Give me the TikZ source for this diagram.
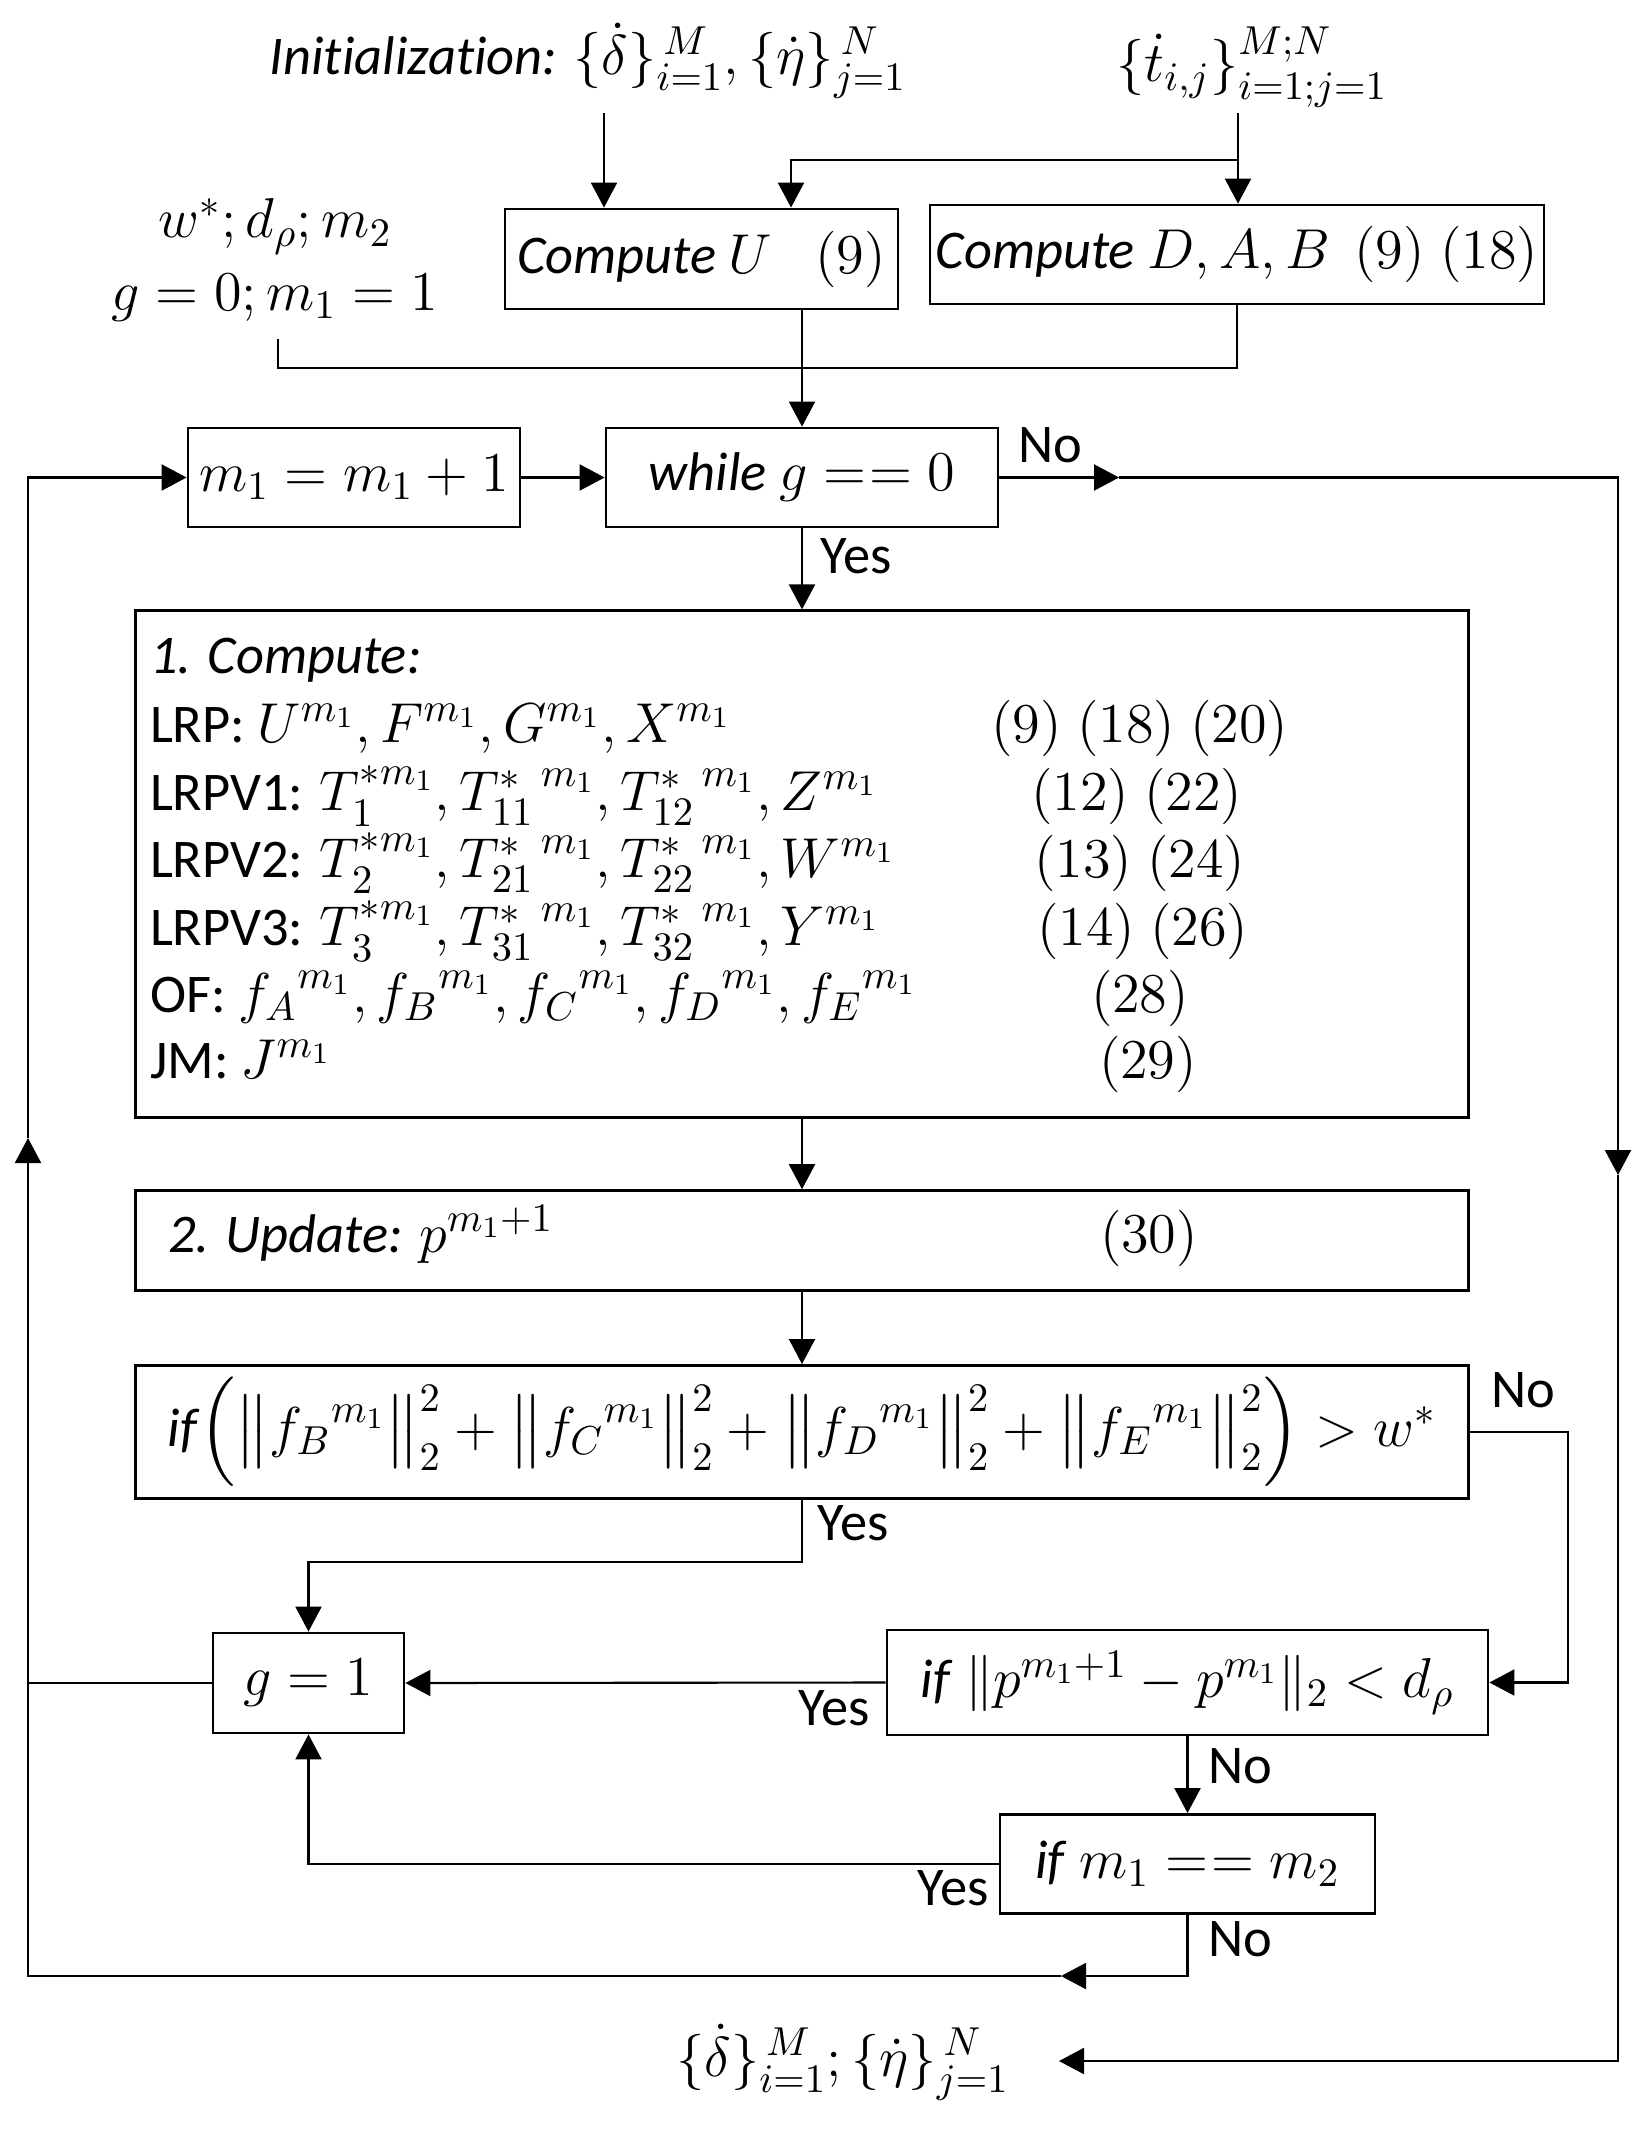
\RequirePackage{fix-cm}
\documentclass[tikz,border=0pt]{standalone}
\usepackage{amsmath}
\usepackage{fontspec}
\setmainfont{Carlito}[Ligatures=NoCommon]
\DeclareMathSizes{15.5}{16}{11.5}{8.5}
\usetikzlibrary{arrows.meta,positioning}

\begin{document}
\begin{tikzpicture}[font=\fontsize{15.5}{18.6}\selectfont,line width=0.6pt,
  box/.style={draw,line width=0.8pt,inner sep=0pt,align=center},
  flow/.style={-{Triangle[length=2.5mm,width=2.6mm]}},
  row/.style={anchor=base west,inner sep=0pt},
  lbl/.style={inner sep=1pt}]
\useasboundingbox (0,0) rectangle (16.41,-21.42);
% inputs
\node[anchor=base] (init) at (5.88,-0.75) {\textit{Initialization:} $\{\dot\delta\}_{i=1}^{\,M}, \{\dot\eta\}_{j=1}^{\,N}$};
\node[anchor=base] (tdot) at (12.52,-0.82) {$\{\dot t_{i,j}\}_{i=1;j=1}^{M;N}$};
\node[align=center] (par) at (2.75,-2.60) {$w^*; d_\rho; m_2$\\[2pt]$g=0; m_1=1$};
\node[box,minimum width=3.93cm,minimum height=1cm] (U) at (7.015,-2.59) {\textit{Compute} $U$\hspace{.8em}$(9)$};
\node[box,minimum width=6.14cm,minimum height=0.99cm] (D) at (12.37,-2.545) {\textit{Compute} $D,A,B$\hspace{.45em}$(9)\;(18)$};
% loop head
\node[box,minimum width=3.32cm,minimum height=0.99cm] (m1) at (3.54,-4.775) {$m_1=m_1+1$};
\node[box,minimum width=3.92cm,minimum height=0.99cm] (while) at (8.02,-4.775) {\textit{while} $g\mathrel{=\mkern1mu=}0$};
\node[box,minimum width=13.33cm,minimum height=5.07cm,below=8.1mm of while] (comp) {};
\node[box,minimum width=13.33cm,minimum height=1cm,below=7mm of comp] (upd) {};
\node[box,minimum width=13.33cm,minimum height=1.33cm,below=7.2mm of upd] (cond) {\textit{if}$\left(\big\|{f_B}^{m_1}\big\|_2^2+\big\|{f_C}^{m_1}\big\|_2^2+\big\|{f_D}^{m_1}\big\|_2^2+\big\|{f_E}^{m_1}\big\|_2^2\right)>w^*$};
% box contents
\node[row] (c0) at (1.49,-6.73) {\textit{1. Compute:}};
\node[row] (c1) at (1.49,-7.42) {LRP: $U^{m_1},F^{m_1},G^{m_1},X^{m_1}$};
\node[row] (c2) at (1.49,-8.10) {LRPV1: $T_1^{*m_1},{T_{11}^{*}}^{\,m_1},{T_{12}^{*}}^{\,m_1},Z^{m_1}$};
\node[row] (c3) at (1.49,-8.77) {LRPV2: $T_2^{*m_1},{T_{21}^{*}}^{\,m_1},{T_{22}^{*}}^{\,m_1},W^{m_1}$};
\node[row] (c4) at (1.49,-9.45) {LRPV3: $T_3^{*m_1},{T_{31}^{*}}^{\,m_1},{T_{32}^{*}}^{\,m_1},Y^{m_1}$};
\node[row] (c5) at (1.49,-10.12) {OF: ${f_A}^{m_1},{f_B}^{m_1},{f_C}^{m_1},{f_D}^{m_1},{f_E}^{m_1}$};
\node[row] (c6) at (1.49,-10.78) {JM: $J^{m_1}$};
\node[anchor=base] (n1) at (11.40,-7.42) {$(9)\;(18)\;(20)$};
\node[anchor=base] (n2) at (11.37,-8.10) {$(12)\;(22)$};
\node[anchor=base] (n3) at (11.40,-8.77) {$(13)\;(24)$};
\node[anchor=base] (n4) at (11.43,-9.45) {$(14)\;(26)$};
\node[anchor=base] (n5) at (11.40,-10.12) {$(28)$};
\node[anchor=base] (n6) at (11.48,-10.78) {$(29)$};
\node[row] (u0) at (1.67,-12.52) {\textit{2. Update:} $p^{m_1+1}$};
\node[anchor=base] (u1) at (11.49,-12.52) {$(30)$};
% stop tests
\node[box,minimum width=1.91cm,minimum height=1cm] (g1) at (3.085,-16.83) {$g=1$};
\node[box,minimum width=6.01cm,minimum height=1.05cm] (dp) at (11.875,-16.825) {\textit{if} $\|p^{m_1+1}-p^{m_1}\|_2<d_\rho$};
\node[box,minimum width=3.75cm,minimum height=0.99cm] (mm) at (11.875,-18.64) {\textit{if} $m_1\mathrel{=\mkern1mu=}m_2$};
\node (out) at (8.43,-20.62) {$\{\dot\delta\}_{i=1}^{\,M}; \{\dot\eta\}_{j=1}^{\,N}$};
% corner points
\coordinate (a1) at (6.04,-1.13);
\coordinate (a2) at (12.38,-1.13);
\coordinate (br) at (12.38,-1.60);
\coordinate (bU) at (7.91,-1.60);
\coordinate (p1) at (2.78,-3.39);
\coordinate (mg) at (8.02,-3.68);
\coordinate (wNo) at (11.19,-4.775);
\coordinate (rM) at (16.18,-11.75);
\coordinate (oT) at (10.59,-20.61);
\coordinate (lB) at (0.28,-19.76);
\coordinate (lM) at (0.28,-11.38);
\coordinate (bT) at (10.61,-19.76);
\coordinate (iN) at (15.68,-14.22);
\coordinate (iY) at (8.03,-15.62);
% connectors
\draw[flow] (a1) -- (a1 |- U.north);
\draw[flow] (a2) -- (a2 |- D.north);
\draw[flow] (br) -- (bU) -- (bU |- U.north);
\draw (p1) |- (mg) -| (D.south);
\draw[flow] (U.south -| while.north) -- (while.north);
\draw[flow] (m1) -- (while);
\draw[flow] (while) -- (comp);
\draw[flow] (comp) -- (upd);
\draw[flow] (upd) -- (cond);
\draw[flow] (while.east) -- (wNo);
\draw[flow] (wNo) -| (rM);
\draw[flow] (rM) |- (oT);
\draw[flow] (cond.east) -| (iN |- dp.east) -- (dp.east);
\draw[flow] (cond.south) |- (g1.north |- iY) -- (g1.north);
\draw[flow] (dp.west) -- (g1.east);
\draw[flow] (dp.south) -- (mm.north);
\draw[flow] (mm.west) -| (g1.south);
\draw[flow] (mm.south) |- (bT);
\draw[flow] (bT) -- (lB) -- (lM);
\draw[flow] (lM) |- (m1.west);
\draw (g1.west) -- (g1.west -| lB);
% branch labels
\node[lbl] (y1) at (8.56,-5.56) {Yes};
\node[lbl] (o1) at (10.50,-4.45) {No};
\node[lbl] (o2) at (15.23,-13.90) {No};
\node[lbl] (y2) at (8.53,-15.23) {Yes};
\node[lbl] (y3) at (8.34,-17.08) {Yes};
\node[lbl] (o3) at (12.40,-17.66) {No};
\node[lbl] (y4) at (9.53,-18.88) {Yes};
\node[lbl] (o4) at (12.40,-19.39) {No};
\end{tikzpicture}
\end{document}
